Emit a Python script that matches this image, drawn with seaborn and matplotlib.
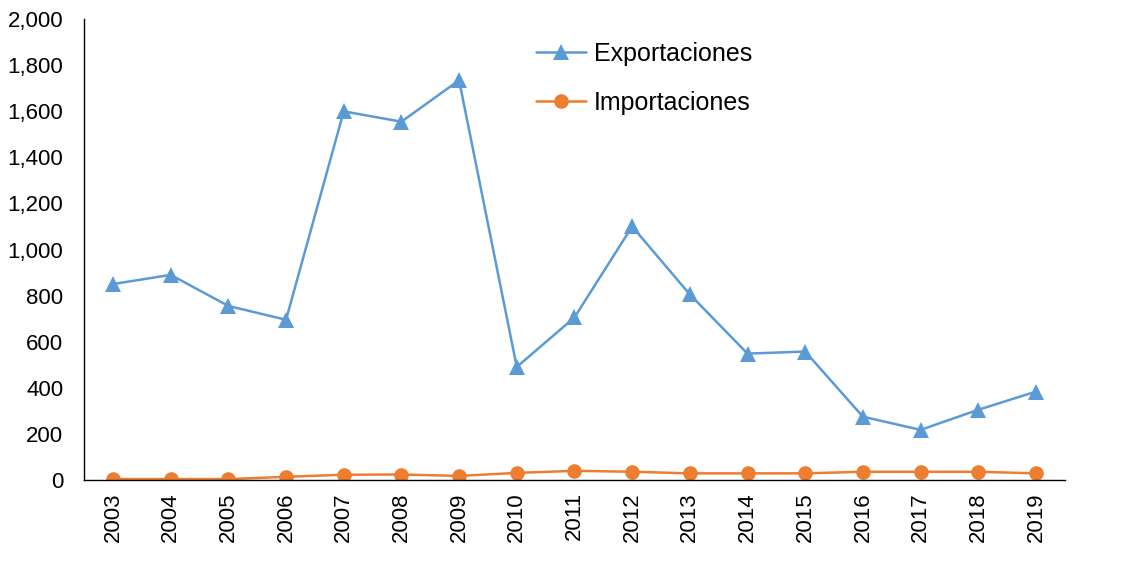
import matplotlib
matplotlib.use('Agg')
import matplotlib.pyplot as plt
import matplotlib.ticker as mticker
import numpy as np
import pandas as pd
import seaborn as sns

years = list(range(2003, 2020))
exportaciones = [850, 890, 755, 695, 1600, 1555, 1735, 490, 705, 1100, 805, 548, 557, 274, 217, 304, 383]
importaciones = [3, 3, 3, 13, 22, 23, 17, 30, 39, 35, 28, 28, 28, 35, 35, 35, 28]

sns.set_style('white')
plt.rcParams['font.family'] = ['Liberation Sans', 'DejaVu Sans']
plt.rcParams['text.color'] = 'black'
plt.rcParams['xtick.color'] = 'black'
plt.rcParams['ytick.color'] = 'black'

df = pd.DataFrame({'year': years, 'Exportaciones': exportaciones, 'Importaciones': importaciones})

fig = plt.figure(figsize=(11.22, 5.83), dpi=100)
ax = fig.add_axes([0.075, 0.177, 0.874, 0.790])

sns.lineplot(data=df, x='year', y='Exportaciones', ax=ax, color='#5B9BD5', marker='^',
             markersize=11, markeredgewidth=0, linewidth=1.8, label='Exportaciones')
sns.lineplot(data=df, x='year', y='Importaciones', ax=ax, color='#ED7D31', marker='o',
             markersize=10.5, markeredgewidth=0, linewidth=1.8, label='Importaciones')

ax.set_xlim(2002.5, 2019.5)
ax.set_ylim(0, 2000)
ax.set_yticks(np.arange(0, 2001, 200))
ax.yaxis.set_major_formatter(mticker.FuncFormatter(lambda v, p: f'{int(v):,}'))
ax.set_xticks(years)
ax.set_xticklabels([str(y) for y in years], rotation=90)
ax.tick_params(axis='both', labelsize=16, length=0)
ax.tick_params(axis='x', pad=9)
ax.tick_params(axis='y', pad=15)
ax.set_xlabel('')
ax.set_ylabel('')
for s in ['top', 'right']:
    ax.spines[s].set_visible(False)
for s in ['left', 'bottom']:
    ax.spines[s].set_color('black')
    ax.spines[s].set_linewidth(1.0)

ax.legend(loc='upper left', bbox_to_anchor=(0.458, 0.967), bbox_transform=fig.transFigure,
          frameon=False, fontsize=18, handlelength=2.0, labelspacing=1.0, handletextpad=0.3)

fig.savefig('out.png', dpi=100)
